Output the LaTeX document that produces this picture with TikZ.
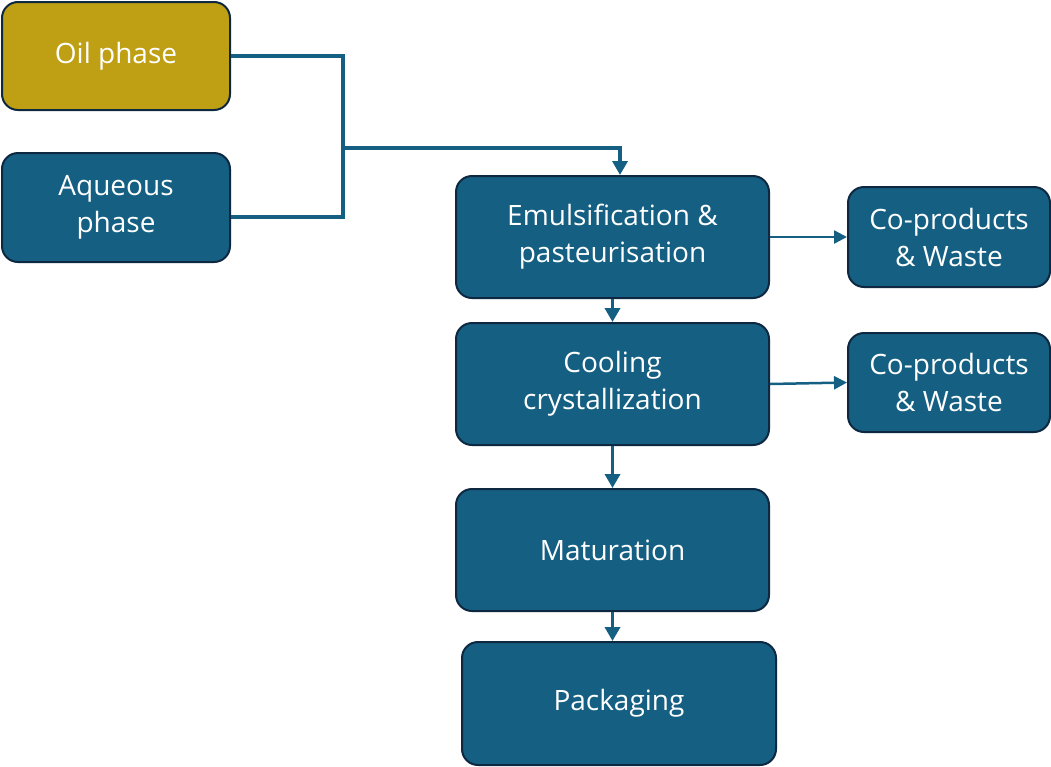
\documentclass[tikz,border=0pt]{standalone}
\usepackage{fontspec}
\setmainfont{Open Sans}
\usetikzlibrary{arrows.meta}
\definecolor{boxblue}{HTML}{156082}
\definecolor{boxgold}{HTML}{BF9F13}
\definecolor{boxline}{HTML}{0E2841}
\begin{document}
\begin{tikzpicture}[x=1pt,y=-1pt,
  procbox/.style={draw=boxline, line width=2pt, fill=boxblue, rounded corners=16pt,
    text=white, align=center, font=\fontsize{28}{37}\selectfont, inner sep=0pt},
  conn/.style={draw=boxblue, line width=3.5pt},
  thinconn/.style={draw=boxblue, line width=2.5pt, -{Triangle[length=13pt,width=13pt]}},
  arr/.style={conn, -{Triangle[length=14pt,width=15pt]}}]
\useasboundingbox (0,0) rectangle (1051,766);
\node[procbox, fill=boxgold, minimum width=228pt, minimum height=108pt] (oil) at (116,56) {Oil phase};
\node[procbox, minimum width=228pt, minimum height=109pt] (aq) at (116,207.5) {Aqueous\\phase};
\node[procbox, minimum width=313pt, minimum height=122pt] (emul) at (612.5,237) {Emulsification \&\\pasteurisation};
\node[procbox, minimum width=202pt, minimum height=100pt] (cp1) at (949,237) {Co-products\\\& Waste};
\node[procbox, minimum width=313pt, minimum height=122pt] (cool) at (612.5,384) {Cooling\\crystallization};
\node[procbox, minimum width=202pt, minimum height=99pt] (cp2) at (949,382.5) {Co-products\\\& Waste};
\node[procbox, minimum width=313pt, minimum height=122pt] (mat) at (612.5,550) {Maturation};
\node[procbox, minimum width=314pt, minimum height=123pt] (pack) at (619,703.5) {Packaging};
\coordinate (join) at (343,148);
\draw[conn] (oil.east) -- (343,56) -- (343,217) -- (aq.east |- 0,217);
\draw[arr] (join) -- (620,148) -- (620,0 |- emul.north);
\draw[thinconn] (emul.east) -- (cp1.west);
\draw[thinconn] (cool.east) -- (cp2.west);
\draw[arr] (emul.south) -- (cool.north);
\draw[arr] (cool.south) -- (mat.north);
\draw[arr] (mat.south) -- (mat.south |- pack.north);
\end{tikzpicture}
\end{document}
